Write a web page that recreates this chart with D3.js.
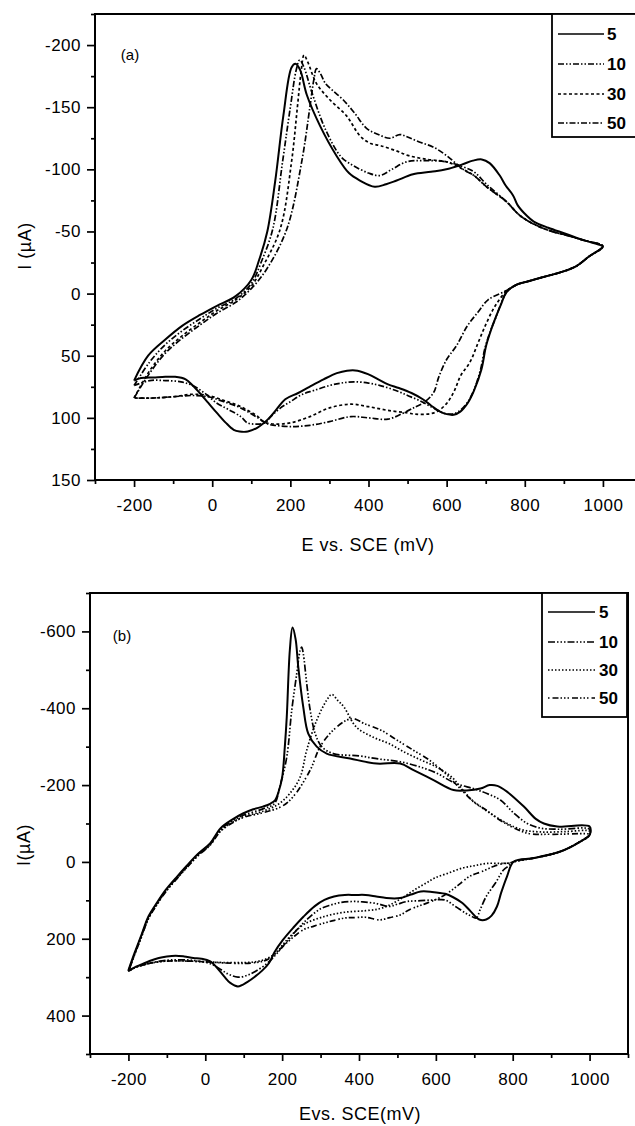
<!DOCTYPE html>
<html><head><meta charset="utf-8">
<script src="https://cdn.jsdelivr.net/npm/d3@7"></script>
<style>body{margin:0;background:#fff}svg{display:block}text{font-family:"Liberation Sans",Arial,sans-serif;fill:#000}</style>
</head><body><svg id="c" width="635" height="1126"></svg>
<script>
// ---------- data: panel (a)  [E (mV), I (uA)] ----------
const legendLabels = ["5", "10", "30", "50"];
const xTicksMajor = [-200, 0, 200, 400, 600, 800, 1000];
const yTicksA = [-200, -150, -100, -50, 0, 50, 100, 150];
const yTicksB = [-600, -400, -200, 0, 200, 400];

const a5 = [[-200,70],[-164,50],[-120,37],[-77,26],[-30,17],[11,10],[60,2],[100,-11],[120,-27],[141,-50],[161,-90],[182,-143],[203,-182],[213,-185],[225,-180],[242,-160],[276,-135],[318,-111],[350,-97],[378,-91],[416,-86],[445,-88],[472,-91],[514,-96],[560,-98],[599,-100],[640,-104],[667,-107],[690,-108],[710,-105],[736,-95],[751,-87],[770,-79],[782,-71],[804,-63],[823,-58],[860,-53],[906,-48],[950,-43],[994,-39],[1000,-38],
 [965,-30],[931,-22],[890,-17],[855,-14],[810,-10],[778,-7],[753,-1],[740,8],[727,18],[715,28],[701,42],[689,61],[670,78],[654,88],[635,95],[618,97.5],[600,97],[583,95],[560,90],[539,85],[510,80],[478,76],[450,73],[425,69],[400,65],[372,62],[345,62],[319,64],[285,69],[249,75],[220,80],[187,85],[165,93],[143,101],[115,108],[91,111],[70,111],[55,109.6],[35,104],[12,96],[-10,88],[-32,80],[-50,74],[-68,69],[-95,67],[-120,67],[-150,67.5],[-182,68],[-200,70]];
const a10 = [[-200,74],[-160,55],[-120,41],[-77,30],[-30,20],[11,12],[60,4],[100,-8],[125,-25],[155,-52],[180,-106],[200,-150],[215,-180],[224,-188],[235,-182],[255,-162],[290,-132],[330,-110],[361,-103],[400,-97],[429,-95],[460,-100],[497,-106],[540,-107],[600,-106],[642,-102],[670,-98],[702,-88],[753,-74],[787,-63],[829,-55],[870,-50],[906,-47],[950,-43],[1000,-38],
 [965,-30],[931,-22],[890,-17],[855,-14],[810,-10],[778,-7],[753,-1],[738,9],[725,20],[712,30],[698,44],[686,62],[668,79],[650,89],[630,95],[612,97],[590,96],[560,91],[530,86],[500,82],[470,78],[430,74],[400,72],[363,71],[330,72],[300,74],[260,78],[231,81],[200,87],[175,92],[150,99],[135,104],[110,105],[90,104],[73,99],[40,93],[11,88],[-20,80],[-50,74],[-80,71],[-120,70],[-160,70],[-200,74]];
const a30 = [[-200,84],[-160,62],[-120,46],[-77,34],[-30,23],[11,14],[60,5],[100,-6],[130,-22],[174,-52],[203,-106],[218,-150],[228,-180],[235,-192],[245,-186],[267,-169],[301,-156],[344,-143],[378,-127],[404,-121],[431,-119],[470,-115],[503,-111],[550,-108],[600,-106],[642,-100],[670,-95],[702,-86],[753,-74],[787,-63],[829,-55],[870,-50],[906,-47],[950,-43],[1000,-38],
 [965,-30],[931,-22],[890,-17],[855,-14],[810,-10],[778,-7],[753,-2],[724,10],[700,25],[680,40],[660,55],[636,66],[620,78],[601,88],[575,95],[550,97],[520,97],[500,96],[450,94],[400,91],[355,89],[300,92],[250,99],[200,104],[160,105],[130,103],[117,99],[73,91],[30,86],[-10,82],[-50,81],[-100,83],[-150,84],[-200,84]];
const a50 = [[-200,84],[-160,64],[-120,48],[-77,36],[-30,25],[11,16],[60,7],[100,-4],[140,-20],[191,-52],[229,-106],[250,-150],[260,-172],[267,-181],[277,-177],[290,-169],[310,-163],[335,-156],[365,-145],[395,-133],[425,-128],[455,-125],[480,-128],[500,-126],[530,-122],[565,-118],[600,-111],[642,-100],[670,-95],[702,-86],[753,-74],[787,-63],[829,-55],[870,-50],[906,-47],[950,-43],[1000,-38],
 [965,-30],[931,-22],[890,-17],[855,-14],[810,-10],[778,-7],[750,-2],[706,5],[680,15],[653,26],[625,42],[600,53],[580,67],[566,80],[540,88],[521,91],[490,96],[450,101],[400,100],[355,99],[300,103],[250,106],[200,107],[160,106],[143,105],[117,100],[73,92],[30,87],[-10,83],[-50,82],[-100,83],[-150,84],[-200,84]];

// ---------- data: panel (b) ----------
const b5 = [[-200,282],[-184,237],[-166,190],[-148,142],[-125,105],[-103,73],[-75,40],[-50,12],[-20,-20],[13,-49],[40,-88],[70,-110],[98,-126],[125,-137],[150,-144],[170,-152],[182,-161],[190,-180],[200,-220],[207,-300],[212,-377],[220,-551],[227,-610],[235,-580],[242,-507],[255,-403],[268,-334],[290,-300],[316,-282],[377,-269],[446,-256],[507,-256],[542,-239],[594,-213],[646,-187],[680,-186],[716,-191],[740,-200],[760,-198],[785,-183],[829,-144],[860,-112],[881,-100],[916,-92],[1000,-92],[1000,-70],
 [976,-53],[924,-27],[855,-10],[803,-1],[785,38],[770,80],[759,116],[745,140],[731,150],[713,150],[690,128],[669,107],[645,92],[624,83],[590,78],[561,77],[535,85],[507,94],[471,94],[445,90],[417,86],[390,86],[363,86],[335,90],[310,99],[285,115],[256,142],[230,170],[202,203],[180,235],[166,263],[148,283],[130,298],[110,312],[85,324],[65,315],[49,298],[30,275],[13,259],[-10,252],[-31,250],[-55,246],[-77,244],[-100,246],[-121,250],[-145,258],[-166,267],[-185,275],[-200,282]];
const b10 = [[-200,285],[-184,240],[-166,192],[-148,145],[-125,107],[-103,75],[-75,42],[-50,14],[-20,-18],[13,-47],[40,-85],[70,-106],[100,-122],[150,-138],[180,-152],[194,-196],[212,-273],[225,-395],[238,-490],[247,-551],[251,-559],[255,-542],[264,-464],[273,-395],[286,-334],[303,-300],[333,-282],[400,-276],[450,-268],[500,-262],[550,-250],[600,-232],[650,-205],[700,-190],[733,-178],[768,-161],[803,-127],[838,-100],[872,-88],[920,-85],[1000,-85],[1000,-70],
 [976,-53],[924,-27],[855,-10],[803,-1],[790,10],[776,21],[755,55],[731,90],[715,125],[705,146],[690,140],[677,133],[651,116],[624,99],[597,99],[560,101],[525,103],[500,110],[480,116],[444,108],[410,104],[381,103],[350,106],[327,112],[300,122],[270,145],[240,175],[210,210],[185,240],[160,265],[130,285],[110,295],[85,300],[60,292],[40,280],[13,265],[-20,258],[-50,255],[-100,256],[-150,265],[-185,276],[-200,285]];
const b30 = [[-200,285],[-184,241],[-166,194],[-148,147],[-125,109],[-103,77],[-75,44],[-50,16],[-20,-16],[13,-45],[40,-82],[70,-103],[100,-118],[150,-132],[190,-150],[220,-178],[247,-221],[264,-291],[290,-369],[316,-421],[329,-436],[345,-420],[361,-403],[393,-351],[436,-325],[478,-308],[520,-285],[562,-265],[600,-248],[640,-222],[664,-195],[690,-165],[716,-144],[768,-110],[820,-85],[872,-78],[940,-79],[1000,-80],[1000,-70],
 [976,-53],[924,-27],[855,-10],[810,-2],[794,3],[776,4],[731,4],[700,10],[669,16],[630,30],[597,42],[575,55],[552,68],[530,82],[507,97],[480,112],[453,122],[417,127],[363,131],[310,142],[256,163],[220,195],[202,215],[184,237],[160,252],[130,260],[100,262],[50,262],[0,260],[-50,258],[-100,258],[-150,265],[-185,276],[-200,285]];
const b50 = [[-200,285],[-184,242],[-166,195],[-148,148],[-125,110],[-103,78],[-75,45],[-50,17],[-20,-15],[13,-44],[40,-80],[70,-101],[100,-116],[150,-128],[200,-145],[229,-170],[273,-239],[299,-300],[333,-343],[368,-369],[386,-373],[414,-360],[457,-343],[499,-317],[541,-291],[583,-265],[625,-230],[664,-190],[700,-155],[731,-135],[768,-108],[837,-75],[900,-72],[1000,-72],[1000,-70],
 [976,-53],[924,-27],[855,-10],[810,-2],[790,3],[776,4],[750,12],[720,25],[687,38],[665,55],[642,73],[620,88],[597,99],[575,108],[552,116],[530,125],[507,138],[480,145],[453,151],[417,144],[390,145],[363,146],[336,152],[310,159],[283,167],[256,176],[230,195],[202,220],[184,237],[160,255],[130,262],[100,264],[50,263],[0,260],[-50,258],[-100,258],[-150,265],[-185,276],[-200,285]];

// ---------- drawing ----------
const svg = d3.select("#c");
svg.append("rect").attr("width",635).attr("height",1126).attr("fill","#fff");

const dashA = [null, "6,2,1.5,2,1.5,2", "3,2.5", "6,2,1.5,2"];
const dashB = [null, "7,2,1.5,2,1.5,2,1.5,2", "1.5,2", "1.5,3,6,2,1.5,2,1.5,2"];
const fmt = d => String(d);

function panel(cfg){
  const g = svg.append("g");
  const x = d3.scaleLinear().domain([-300,1100]).range([cfg.left, cfg.right]);
  const y = d3.scaleLinear().domain(cfg.yDomain).range([cfg.top, cfg.bottom]);
  const line = d3.line().x(d=>x(d[0])).y(d=>y(d[1])).curve(d3.curveCatmullRom.alpha(0.5));

  cfg.series.forEach((s,i)=>{
    g.append("path").attr("d", line(s)).attr("fill","none").attr("stroke","#000")
     .attr("stroke-width", i===0?2:1.7).attr("stroke-dasharray", cfg.dash[i]).attr("stroke-linejoin","round");
  });

  g.append("rect").attr("x",cfg.left).attr("y",cfg.top).attr("width",cfg.right-cfg.left).attr("height",cfg.bottom-cfg.top)
   .attr("fill","none").attr("stroke","#000").attr("stroke-width",2);

  const xMinor = d3.range(-300,1101,100).filter(v=>!xTicksMajor.includes(v));
  const xa = g.append("g").attr("transform",`translate(0,${cfg.bottom})`)
    .call(d3.axisBottom(x).tickValues(xTicksMajor).tickFormat(fmt).tickSize(7).tickPadding(cfg.xPad).tickSizeOuter(0));
  const xm = g.append("g").attr("transform",`translate(0,${cfg.bottom})`)
    .call(d3.axisBottom(x).tickValues(xMinor).tickSize(4).tickFormat("").tickSizeOuter(0));
  const yMinor = d3.range(cfg.yDomain[0], cfg.yDomain[1]+0.1, cfg.yMinorStep).filter(v=>!cfg.yTicks.includes(v));
  const ya = g.append("g").attr("transform",`translate(${cfg.left},0)`)
    .call(d3.axisLeft(y).tickValues(cfg.yTicks).tickFormat(fmt).tickSize(8).tickPadding(6).tickSizeOuter(0));
  const ym = g.append("g").attr("transform",`translate(${cfg.left},0)`)
    .call(d3.axisLeft(y).tickValues(yMinor).tickSize(4).tickFormat("").tickSizeOuter(0));
  [xa,xm,ya,ym].forEach(a=>{a.select(".domain").remove();a.selectAll("line").attr("stroke","#000").attr("stroke-width",1.7);});
  [xa,ya].forEach(a=>a.selectAll("text").attr("font-size",cfg.tickFont).attr("letter-spacing","0.5px")
     .style("font-family","'Liberation Sans',Arial,sans-serif"));

  g.append("text").attr("x",cfg.xTitleX).attr("y",cfg.xTitleY).attr("text-anchor","middle")
   .attr("font-size",cfg.titleFont).attr("letter-spacing","0.5px").text(cfg.xTitle);
  g.append("text").attr("transform",`translate(${cfg.yTitleX},${cfg.yTitleY}) rotate(-90)`).attr("text-anchor","middle")
   .attr("font-size",cfg.titleFont).attr("letter-spacing","0.5px").text(cfg.yTitle);
  g.append("text").attr("x",cfg.tagX).attr("y",cfg.tagY).attr("text-anchor","middle").attr("font-size",15).text(cfg.tag);

  const L = cfg.legend;
  g.append("rect").attr("x",L.x0).attr("y",cfg.top).attr("width",L.x1-L.x0).attr("height",L.y1-cfg.top)
   .attr("fill","#fff").attr("stroke","#000").attr("stroke-width",1.8);
  legendLabels.forEach((lab,i)=>{
    const yy = L.rows[i];
    g.append("line").attr("x1",L.lx0).attr("x2",L.lx1).attr("y1",yy).attr("y2",yy)
     .attr("stroke","#000").attr("stroke-width",1.7).attr("stroke-dasharray",cfg.dash[i]);
    g.append("text").attr("x",L.tx).attr("y",yy).attr("dy","0.36em").attr("font-size",L.font).attr("font-weight","bold").text(lab);
  });
}

panel({left:95, right:642, top:14, bottom:480, yDomain:[-225,150], yTicks:yTicksA, yMinorStep:25,
  series:[a5,a10,a30,a50], dash:dashA, xPad:12, tickFont:17, titleFont:18,
  xTitle:"E vs. SCE (mV)", xTitleX:368, xTitleY:551, yTitle:"I (\u00b5A)", yTitleX:31, yTitleY:246,
  tag:"(a)", tagX:130, tagY:60,
  legend:{x0:552, x1:640, y1:137, rows:[34,64,94,123], lx0:558, lx1:604, tx:607, font:17}});

panel({left:90, right:628, top:593, bottom:1054, yDomain:[-700,500], yTicks:yTicksB, yMinorStep:100,
  series:[b5,b10,b30,b50], dash:dashB, xPad:12, tickFont:17, titleFont:18,
  xTitle:"Evs. SCE(mV)", xTitleX:360, xTitleY:1120, yTitle:"I(\u00b5A)", yTitleX:30, yTitleY:845,
  tag:"(b)", tagX:122, tagY:641,
  legend:{x0:542, x1:627, y1:717, rows:[612,642,670,698], lx0:548, lx1:595, tx:599, font:17}});
</script></body></html>
